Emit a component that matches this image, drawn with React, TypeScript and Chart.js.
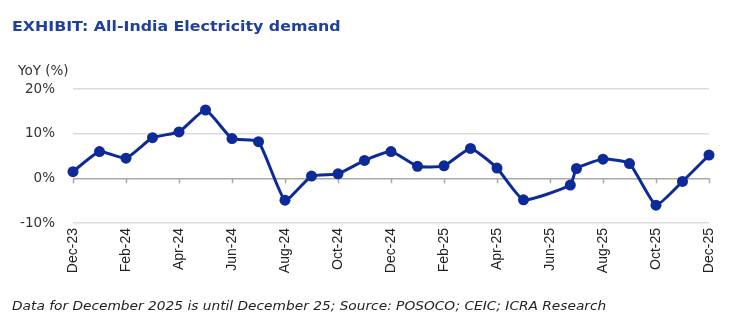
import React, { useEffect, useRef } from "react";
import { Chart, registerables } from "chart.js";

Chart.register(...registerables);

const months = [
  "Dec-23", "Jan-24", "Feb-24", "Mar-24", "Apr-24", "May-24", "Jun-24",
  "Jul-24", "Aug-24", "Sep-24", "Oct-24", "Nov-24", "Dec-24", "Jan-25",
  "Feb-25", "Mar-25", "Apr-25", "May-25", "Jun-25", "Jul-25", "Aug-25",
  "Sep-25", "Oct-25", "Nov-25", "Dec-25",
];
const yoyGrowth = [
  1.5, 6.0, 4.5, 9.1, 10.4, 15.3, 8.9, 8.2, -4.9, 0.5, 1.0, 4.0, 6.0,
  2.7, 2.8, 6.7, 2.3, -4.8, -1.5, 2.2, 4.3, 3.3, -6.0, -0.7, 5.2,
];
// day of month each reading is dated on
const dayOfMonth = [
  1, 1, 1, 1, 1, 1, 1, 1, 1, 1, 1, 1, 1, 1, 1, 1, 1, 1, 24, 1, 1, 1, 1, 1, 1,
];
const yTickValues = [-10, 0, 10, 20];
const xLabelEvery = 2;

const TITLE = "EXHIBIT: All-India Electricity demand";
const AXIS_TITLE = "YoY (%)";
const NOTE =
  "Data for December 2025 is until December 25; Source: POSOCO; CEIC; ICRA Research";

const LINE_COLOR = "#0c2a98";

export default function App() {
  const ref = useRef<HTMLCanvasElement | null>(null);

  useEffect(() => {
    if (!ref.current) return;
    const points = months.map((_, i) => ({
      x: i + (dayOfMonth[i] - 1) / 30,
      y: yoyGrowth[i],
    }));

    const zeroTicks = {
      id: "zeroTicks",
      beforeDatasetsDraw(chart: any) {
        const { ctx, scales } = chart;
        const xs = scales.x;
        const y0 = scales.y.getPixelForValue(0);
        ctx.save();
        ctx.strokeStyle = "#a9a9a9";
        ctx.lineWidth = 1.5;
        ctx.beginPath();
        for (let i = 0; i < months.length; i += xLabelEvery) {
          const px = Math.round(xs.getPixelForValue(i)) + 0.5;
          ctx.moveTo(px, y0);
          ctx.lineTo(px, y0 + 5);
        }
        ctx.stroke();
        ctx.restore();
      },
    };

    const chart = new Chart(ref.current, {
      type: "line",
      data: {
        datasets: [
          {
            data: points,
            borderColor: LINE_COLOR,
            backgroundColor: LINE_COLOR,
            borderWidth: 3,
            pointRadius: 5.5,
            pointHoverRadius: 5.5,
            pointBackgroundColor: LINE_COLOR,
            pointBorderWidth: 0,
            tension: 0.15,
            clip: false as any,
          },
        ],
      },
      options: {
        animation: false,
        responsive: false,
        maintainAspectRatio: false,
        layout: { padding: { top: 89, right: 25, left: 0, bottom: 0 } },
        plugins: {
          legend: { display: false },
          tooltip: { enabled: false },
          title: { display: false },
        },
        scales: {
          x: {
            type: "linear",
            min: 0,
            max: months.length - 1,
            afterBuildTicks: (s: any) => {
              const t = [];
              for (let i = 0; i < months.length; i += xLabelEvery) t.push({ value: i });
              s.ticks = t;
            },
            afterFit: (s: any) => {
              s.height = 101;
            },
            ticks: {
              autoSkip: false,
              maxRotation: 90,
              minRotation: 90,
              padding: 5,
              color: "#222",
              font: { family: "'Liberation Sans', Arial", size: 14 },
              callback: (v: any) => months[Math.round(Number(v))] ?? "",
            },
            grid: { display: false, drawTicks: false },
            border: { display: false },
          },
          y: {
            min: -10,
            max: 20,
            afterBuildTicks: (s: any) => {
              s.ticks = yTickValues.map((v) => ({ value: v }));
            },
            afterFit: (s: any) => {
              s.width = 73;
            },
            ticks: {
              padding: 18,
              color: "#333",
              font: { family: "'DejaVu Sans'", size: 13.5 },
              callback: (v: any) => `${v}%`,
            },
            grid: {
              drawTicks: false,
              color: (c: any) => (c.tick && c.tick.value === 0 ? "#a9a9a9" : "#dcdcdc"),
              lineWidth: 1.5,
            },
            border: { display: false },
          },
        },
      },
      plugins: [zeroTicks],
    });
    return () => chart.destroy();
  }, []);

  return (
    <div
      style={{
        position: "fixed",
        left: 0,
        top: 0,
        width: 734,
        height: 324,
        background: "#fff",
        overflow: "hidden",
      }}
    >
      <canvas ref={ref} width={734} height={324} style={{ position: "absolute", left: 0, top: 0 }} />
      <div
        style={{
          position: "absolute",
          left: 12,
          top: 16,
          fontFamily: "'DejaVu Sans', sans-serif",
          fontWeight: 700,
          fontSize: 14,
          color: "#2040a0",
          whiteSpace: "nowrap",
          lineHeight: "20px",
          transform: "scaleX(1.13)",
          transformOrigin: "left center",
        }}
      >
        {TITLE}
      </div>
      <div
        style={{
          position: "absolute",
          left: 18,
          top: 61,
          fontFamily: "'DejaVu Sans', sans-serif",
          fontSize: 13.5,
          color: "#333",
          whiteSpace: "nowrap",
          lineHeight: "18px",
        }}
      >
        {AXIS_TITLE}
      </div>
      <div
        style={{
          position: "absolute",
          left: 12,
          top: 297,
          fontFamily: "'DejaVu Sans', sans-serif",
          fontStyle: "italic",
          fontSize: 12,
          color: "#222",
          whiteSpace: "nowrap",
          lineHeight: "18px",
          transform: "scaleX(1.145)",
          transformOrigin: "left center",
        }}
      >
        {NOTE}
      </div>
    </div>
  );
}
